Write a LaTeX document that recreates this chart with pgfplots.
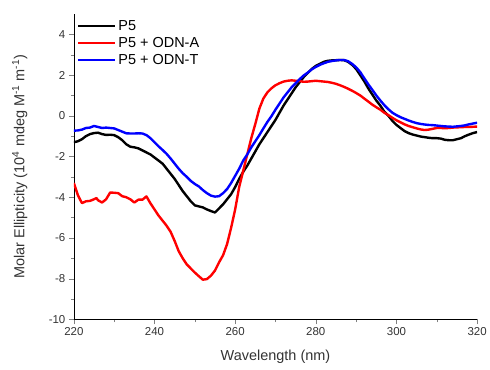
\documentclass[border=0pt]{standalone}
\usepackage{pgfplots}
\pgfplotsset{compat=1.18}
\usepackage{fontspec}
\setmainfont{Liberation Sans}
\begin{document}
\begin{tikzpicture}
\begin{axis}[
  scale only axis,
  width=404pt, height=306pt,
  xmin=220, xmax=320, ymin=-10, ymax=5,
  axis x line*=bottom, axis y line*=left,
  tick align=outside,
  major tick length=5pt, minor tick length=3pt,
  xtick={220,240,...,320}, ytick={-10,-8,...,4},
  minor x tick num=1, minor y tick num=1,
  /pgf/number format/assume math mode=true,
  ticklabel style={font=\fontsize{11.5}{13}\selectfont, text=black!80},
  xlabel={Wavelength (nm)},
  ylabel={Molar Ellipticity (10\textsuperscript{4} mdeg M\textsuperscript{-1} m\textsuperscript{-1})},
  label style={font=\fontsize{14.5}{17}\selectfont, text=black!80},
  xlabel style={at={(axis description cs:0.5,-0.123)}, anchor=center},
  ylabel style={at={(axis description cs:-0.134,0.5)}, anchor=center},
  legend style={draw=none, fill=none, at={(0.005,0.99)}, anchor=north west,
    font=\fontsize{14.5}{17}\selectfont, row sep=1.5pt, inner sep=1pt},
  legend cell align=left,
  legend image code/.code={\draw[#1] (0pt,0pt) -- (37pt,0pt);},
  every axis plot/.append style={line width=2.4pt, line join=round},
]
\addplot[black] coordinates {
(220,-1.30)(221,-1.25)(222,-1.15)(223,-1.0)(224,-0.9)(225,-0.85)(226,-0.83)(227,-0.9)(228,-0.94)(229,-0.93)
(230,-0.95)(231,-1.05)(232,-1.2)(233,-1.4)(234,-1.52)(235,-1.55)(236,-1.6)(237,-1.7)(238,-1.8)(239,-1.9)
(240,-2.05)(241,-2.2)(242,-2.35)(243,-2.6)(244,-2.85)(245,-3.1)(246,-3.4)(247,-3.7)(248,-3.95)(249,-4.2)
(250,-4.4)(251,-4.45)(252,-4.5)(253,-4.6)(254,-4.68)(255,-4.75)(256,-4.55)(257,-4.35)(258,-4.1)(259,-3.85)
(260,-3.5)(261,-3.1)(262,-2.75)(263,-2.45)(264,-2.1)(265,-1.75)(266,-1.4)(267,-1.1)(268,-0.8)(269,-0.5)
(270,-0.2)(271,0.15)(272,0.5)(273,0.8)(274,1.1)(275,1.4)(276,1.65)(277,1.9)(278,2.1)(279,2.3)
(280,2.45)(281,2.55)(282,2.65)(283,2.7)(284,2.72)(285,2.73)(286,2.74)(287,2.73)(288,2.65)(289,2.5)
(290,2.3)(291,2.0)(292,1.7)(293,1.35)(294,1.05)(295,0.75)(296,0.5)(297,0.2)(298,0.0)(299,-0.25)
(300,-0.45)(301,-0.6)(302,-0.75)(303,-0.85)(304,-0.92)(305,-0.97)(306,-1.02)(307,-1.05)(308,-1.08)(309,-1.1)
(310,-1.1)(311,-1.12)(312,-1.18)(313,-1.2)(314,-1.2)(315,-1.15)(316,-1.1)(317,-1.0)(318,-0.92)(319,-0.85)(320,-0.8)
};
\addlegendentry{P5}
\addplot[red] coordinates {
(220,-3.3)(221,-3.9)(222,-4.29)(223,-4.2)(224,-4.18)(225,-4.1)(225.6,-4.04)(226,-4.15)(227,-4.26)(228,-4.1)
(229,-3.77)(230,-3.78)(231,-3.8)(232,-3.95)(233,-4.0)(234,-4.1)(235,-4.26)(236,-4.12)(237,-4.12)(238,-3.96)
(239,-4.3)(240,-4.6)(241,-4.9)(242,-5.15)(243,-5.4)(244,-5.7)(245,-6.15)(246,-6.65)(247,-7.0)(248,-7.3)
(249,-7.5)(250,-7.7)(251,-7.88)(252,-8.05)(253,-8.02)(254,-7.85)(255,-7.6)(256,-7.2)(257,-6.85)(258,-6.3)
(259,-5.5)(260,-4.6)(261,-3.5)(262,-2.7)(263,-1.9)(264,-1.1)(265,-0.4)(266,0.35)(267,0.85)(268,1.15)
(269,1.35)(270,1.5)(271,1.6)(272,1.68)(273,1.72)(274,1.74)(275,1.72)(276,1.7)(277,1.67)(278,1.68)
(279,1.7)(280,1.72)(281,1.7)(282,1.68)(283,1.66)(284,1.62)(285,1.57)(286,1.5)(287,1.42)(288,1.33)
(289,1.23)(290,1.12)(291,1.0)(292,0.85)(293,0.7)(294,0.55)(295,0.42)(296,0.3)(297,0.15)(298,0.03)
(299,-0.1)(300,-0.22)(301,-0.32)(302,-0.42)(303,-0.5)(304,-0.56)(305,-0.62)(306,-0.67)(307,-0.7)(308,-0.68)
(309,-0.64)(310,-0.6)(311,-0.6)(312,-0.61)(313,-0.6)(314,-0.58)(315,-0.57)(316,-0.56)(317,-0.55)(318,-0.55)(319,-0.54)(320,-0.53)
};
\addlegendentry{P5 + ODN-A}
\addplot[blue] coordinates {
(220,-0.73)(221,-0.72)(222,-0.68)(223,-0.6)(224,-0.58)(225,-0.5)(226,-0.55)(227,-0.6)(228,-0.58)(229,-0.6)
(230,-0.62)(231,-0.7)(232,-0.78)(233,-0.86)(234,-0.87)(235,-0.87)(236,-0.86)(237,-0.87)(238,-0.95)(239,-1.1)
(240,-1.3)(241,-1.5)(242,-1.68)(243,-1.87)(244,-2.1)(245,-2.35)(246,-2.6)(247,-2.82)(248,-3.0)(249,-3.2)
(250,-3.35)(251,-3.47)(252,-3.65)(253,-3.8)(254,-3.92)(255,-3.97)(256,-3.95)(257,-3.8)(258,-3.6)(259,-3.3)
(260,-2.95)(261,-2.6)(262,-2.2)(263,-1.9)(264,-1.55)(265,-1.25)(266,-0.95)(267,-0.62)(268,-0.3)(269,-0.02)
(270,0.3)(271,0.6)(272,0.9)(273,1.15)(274,1.4)(275,1.6)(276,1.8)(277,1.98)(278,2.12)(279,2.28)
(280,2.4)(281,2.5)(282,2.58)(283,2.65)(284,2.69)(285,2.72)(286,2.74)(287,2.74)(288,2.68)(289,2.55)
(290,2.38)(291,2.15)(292,1.85)(293,1.55)(294,1.28)(295,1.0)(296,0.75)(297,0.52)(298,0.32)(299,0.15)
(300,0.03)(301,-0.07)(302,-0.15)(303,-0.23)(304,-0.3)(305,-0.36)(306,-0.4)(307,-0.43)(308,-0.45)(309,-0.46)
(310,-0.48)(311,-0.5)(312,-0.52)(313,-0.53)(314,-0.54)(315,-0.52)(316,-0.5)(317,-0.47)(318,-0.42)(319,-0.38)(320,-0.34)
};
\addlegendentry{P5 + ODN-T}
\coordinate (bl) at (rel axis cs:0,0);
\end{axis}
\path (bl) ++(-74pt,-50pt) rectangle ++(490pt,370pt);
\end{tikzpicture}
\end{document}
